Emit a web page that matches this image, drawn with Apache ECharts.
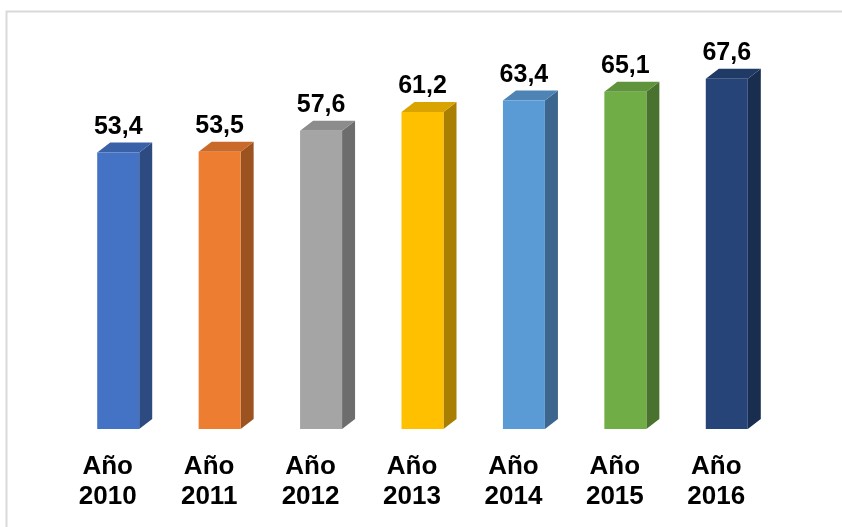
<!DOCTYPE html>
<html>
<head>
<meta charset="utf-8">
<script src="https://cdn.jsdelivr.net/npm/echarts@6/dist/echarts.min.js"></script>
<style>
html,body{margin:0;padding:0;background:#fff;}
#chart{width:842px;height:527px;}
</style>
</head>
<body>
<div id="chart"></div>
<script>
const categories = ['Año\n2010','Año\n2011','Año\n2012','Año\n2013','Año\n2014','Año\n2015','Año\n2016'];
const values = [53.4, 53.5, 57.6, 61.2, 63.4, 65.1, 67.6];
const colors = ['#4472C4','#ED7D31','#A5A5A5','#FFC000','#5B9BD5','#70AD47','#264478'];

function shade(hex, f){
  const n = parseInt(hex.slice(1),16);
  const r = Math.round(((n>>16)&255)*f), g = Math.round(((n>>8)&255)*f), b = Math.round((n&255)*f);
  return 'rgb('+r+','+g+','+b+')';
}

const chart = echarts.init(document.getElementById('chart'), null, {renderer:'canvas'});
const OFF = 10.5, HALF = 21, DX = 13, DY = 10;

chart.setOption({
  animation:false,
  graphic:[{type:'rect', shape:{x:6.5,y:11.5,width:900,height:600}, style:{fill:'none',stroke:'#d9d9d9',lineWidth:2}, z:-1}],
  grid:{left:57, width:710, top:14.6, bottom:98},
  xAxis:{type:'category', data:categories, axisLine:{show:false}, axisTick:{show:false},
    axisLabel:{fontSize:26, fontWeight:'bold', color:'#000', fontFamily:'Liberation Sans, Arial, sans-serif', lineHeight:30, margin:23, interval:0}},
  yAxis:{type:'value', min:0, max:80, show:false, splitLine:{show:false}},
  series:[{
    type:'custom',
    data: values.map((v,i)=>[i,v]),
    renderItem:function(params, api){
      const i = api.value(0), v = api.value(1);
      const top = api.coord([i, v]);
      const base = api.coord([i, 0]);
      const cx = top[0] + OFF, x0 = cx - HALF, x1 = cx + HALF;
      const yt = top[1], yb = base[1];
      const c = colors[i];
      return {type:'group', children:[
        {type:'polygon', shape:{points:[[x1,yt],[x1+DX,yt-DY],[x1+DX,yb-DY],[x1,yb]]}, style:{fill:shade(c,0.66)}},
        {type:'polygon', shape:{points:[[x0,yt],[x1,yt],[x1+DX,yt-DY],[x0+DX,yt-DY]]}, style:{fill:shade(c,0.85)}},
        {type:'rect', shape:{x:x0, y:yt, width:x1-x0, height:yb-yt}, style:{fill:c}},
        {type:'text', style:{x:cx, y:yt-DY-3, text:v.toFixed(1).replace('.',','), textAlign:'center', textVerticalAlign:'bottom',
          font:'bold 25px "Liberation Sans", Arial, sans-serif', fill:'#000'}}
      ]};
    }
  }]
});
</script>
</body>
</html>
